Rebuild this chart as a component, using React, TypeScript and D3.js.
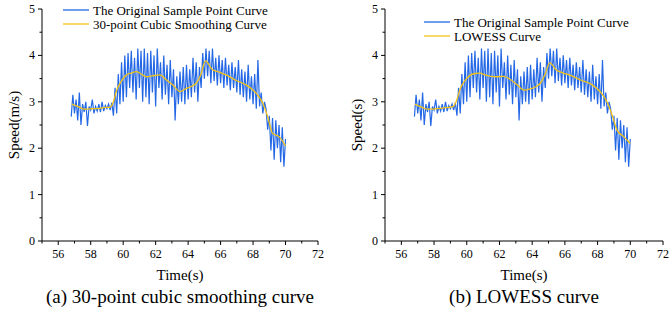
import React from "react";
import * as d3 from "d3";

const T0 = 56.8;
const STEP = 0.1;
const rawSpeed: number[] = [
  2.68, 3.15, 2.75, 3.05, 2.6, 3.2, 2.5, 2.95, 2.78, 3.0,
  2.48, 2.9, 2.82, 3.05, 2.75, 2.9, 2.8, 2.95, 2.78, 3.0,
  2.8, 2.92, 2.85, 2.95, 2.82, 2.98, 2.7, 3.3, 2.75, 3.6,
  2.95, 3.85, 3.0, 4.0, 3.1, 4.05, 3.3, 4.1, 3.2, 3.95,
  3.05, 4.15, 3.3, 4.1, 3.0, 4.15, 3.1, 4.05, 2.95, 4.1,
  3.2, 4.0, 2.9, 4.15, 3.3, 3.85, 3.05, 4.0, 3.15, 3.8,
  2.95, 3.9, 3.1, 3.7, 2.6, 3.55, 2.95, 3.65, 3.0, 3.75,
  2.95, 3.8, 3.05, 3.7, 3.1, 3.95, 3.2, 3.85, 3.0, 3.75,
  3.3, 4.05, 3.5, 4.15, 3.55, 4.1, 3.4, 4.15, 3.45, 3.95,
  3.35, 4.0, 3.4, 3.9, 3.3, 3.95, 3.35, 3.8, 3.25, 3.85,
  3.3, 3.75, 3.2, 3.9, 3.15, 3.7, 3.1, 3.65, 3.0, 3.8,
  3.05, 3.55, 2.95, 3.6, 2.85, 3.9, 2.9, 3.2, 2.75, 3.0,
  2.85, 2.4, 2.7, 1.95, 2.65, 1.75, 2.6, 2.0, 2.5, 1.7,
  2.45, 1.6, 2.2,
];

const smoothTime: number[] = [
  56.83, 57.2, 57.65, 58.1, 58.57, 58.9, 59.18, 59.4, 59.6, 59.9, 60.2, 60.5, 60.8,
  61.1, 61.44, 61.8, 62.26, 62.67, 63.1, 63.5, 63.9, 64.2, 64.5, 64.8, 65.07, 65.5,
  65.9, 66.35, 66.95, 67.6, 68.2, 68.6, 68.9, 69.2, 69.6, 70.0,
];
const smoothCubic: number[] = [
  2.95, 2.9, 2.84, 2.85, 2.86, 2.88, 2.88, 3.0, 3.25, 3.45, 3.58, 3.62, 3.65,
  3.6, 3.54, 3.56, 3.58, 3.47, 3.35, 3.22, 3.29, 3.33, 3.4, 3.6, 3.88, 3.69,
  3.64, 3.58, 3.46, 3.36, 3.18, 2.97, 2.68, 2.32, 2.25, 2.05,
];
const smoothLowess: number[] = [
  2.95, 2.89, 2.84, 2.85, 2.87, 2.88, 2.9, 3.05, 3.28, 3.46, 3.57, 3.61, 3.62,
  3.58, 3.55, 3.54, 3.55, 3.48, 3.36, 3.25, 3.28, 3.32, 3.4, 3.6, 3.84, 3.68,
  3.62, 3.57, 3.47, 3.38, 3.2, 2.98, 2.7, 2.38, 2.25, 2.1,
];

const xTicks: number[] = [56, 58, 60, 62, 64, 66, 68, 70, 72];
const yTicks: number[] = [0, 1, 2, 3, 4, 5];

const BLUE = "#2468e6";
const YELLOW = "#f2c318";
const FONT = '"Liberation Serif", "DejaVu Serif", serif';

type PanelProps = {
  x0: number;
  x1: number;
  smooth: number[];
  yLabel: string;
  legend: [string, string];
  legendX: number;
  legendY: number;
  caption: string;
};

function Panel({ x0, x1, smooth, yLabel, legend, legendX, legendY, caption }: PanelProps) {
  const yTop = 9;
  const yBot = 241;
  const x = d3.scaleLinear().domain([55, 72]).range([x0, x1]);
  const y = d3.scaleLinear().domain([0, 5]).range([yBot, yTop]);
  const raw = rawSpeed.map((v, i) => [T0 + STEP * i, v] as [number, number]);
  const sm = smoothTime.map((t, i) => [t, smooth[i]] as [number, number]);
  const line = d3.line<[number, number]>().x((d) => x(d[0])).y((d) => y(d[1]));
  const smLine = d3
    .line<[number, number]>()
    .x((d) => x(d[0]))
    .y((d) => y(d[1]))
    .curve(d3.curveMonotoneX);
  const minorX = d3.range(55, 72.01, 1).filter((v) => !xTicks.includes(v));
  const minorY = d3.range(0.5, 5, 1);
  const cx = (x0 + x1) / 2;
  return (
    <g>
      <path d={line(raw) || ""} fill="none" stroke={BLUE} strokeWidth={1.2} />
      <path d={smLine(sm) || ""} fill="none" stroke={YELLOW} strokeWidth={1.3} />
      <line x1={x0} x2={x0} y1={yTop} y2={yBot} stroke="#000" />
      <line x1={x0} x2={x1} y1={yBot} y2={yBot} stroke="#000" />
      {xTicks.map((t) => (
        <g key={"xt" + t}>
          <line x1={x(t)} x2={x(t)} y1={yBot} y2={yBot + 4} stroke="#000" />
          <text x={x(t)} y={yBot + 17} textAnchor="middle" fontSize={12}>
            {t}
          </text>
        </g>
      ))}
      {minorX.map((t) => (
        <line key={"mx" + t} x1={x(t)} x2={x(t)} y1={yBot} y2={yBot + 2.5} stroke="#000" />
      ))}
      {yTicks.map((t) => (
        <g key={"yt" + t}>
          <line x1={x0 - 4} x2={x0} y1={y(t)} y2={y(t)} stroke="#000" />
          <text x={x0 - 7} y={y(t) + 4} textAnchor="end" fontSize={12}>
            {t}
          </text>
        </g>
      ))}
      {minorY.map((t) => (
        <line key={"my" + t} x1={x0 - 2.5} x2={x0} y1={y(t)} y2={y(t)} stroke="#000" />
      ))}
      <text
        transform={`translate(${x0 - 23},${(yTop + yBot) / 2}) rotate(-90)`}
        textAnchor="middle"
        fontSize={15}
      >
        {yLabel}
      </text>
      <text x={cx} y={yBot + 39} textAnchor="middle" fontSize={15}>
        Time(s)
      </text>
      <text x={cx} y={yBot + 62} textAnchor="middle" fontSize={19}>
        {caption}
      </text>
      <line x1={legendX} x2={legendX + 26} y1={legendY} y2={legendY} stroke={BLUE} strokeWidth={1.3} />
      <line x1={legendX} x2={legendX + 26} y1={legendY + 14} y2={legendY + 14} stroke={YELLOW} strokeWidth={1.3} />
      <text x={legendX + 30} y={legendY + 4.5} fontSize={13}>
        {legend[0]}
      </text>
      <text x={legendX + 30} y={legendY + 18.5} fontSize={13}>
        {legend[1]}
      </text>
    </g>
  );
}

export default function App() {
  return (
    <svg
      width={671}
      height={311}
      style={{ position: "absolute", left: 0, top: 0, background: "#fff", fontFamily: FONT }}
    >
      <rect width={671} height={311} fill="#fff" />
      <Panel
        x0={42}
        x1={318}
        smooth={smoothCubic}
        yLabel="Speed(m/s)"
        legend={["The Original Sample Point Curve", "30-point Cubic Smoothing Curve"]}
        legendX={63}
        legendY={10}
        caption="(a) 30-point cubic smoothing curve"
      />
      <Panel
        x0={385}
        x1={663}
        smooth={smoothLowess}
        yLabel="Speed(s)"
        legend={["The Original Sample Point Curve", "LOWESS Curve"]}
        legendX={424}
        legendY={22}
        caption="(b) LOWESS curve"
      />
    </svg>
  );
}
